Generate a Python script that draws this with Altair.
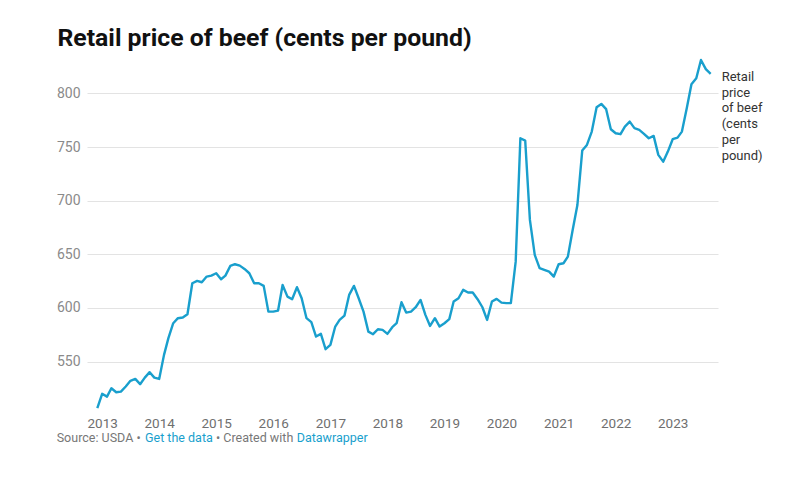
import altair as alt
import pandas as pd

# Monthly retail price of beef (cents per pound), Dec 2012 - Sep 2023
values = [
    506.6, 520.0, 517.4, 525.2, 521.5, 522.1, 526.8, 532.1, 533.9, 529.0, 535.1, 540.2, 535.1,
    533.9, 556.3, 571.9, 585.8, 590.5, 591.1, 594.2, 623.1, 625.3, 624.0, 629.3, 630.2, 632.4,
    626.8, 630.2, 639.2, 640.8, 639.5, 636.4, 632.4,
    623.1, 623.1, 620.6, 596.6, 596.6, 597.6, 621.5, 610.6, 608.2, 619.4, 609.1, 590.5, 586.8,
    573.4, 575.9, 561.6, 565.6, 582.7, 588.9, 592.9, 612.2, 620.6, 609.1, 596.6, 578.0, 575.6,
    580.2, 579.6, 575.9, 582.1, 585.8, 605.4, 595.7, 596.6,
    600.7, 607.5, 593.6, 583.3, 590.5, 582.7, 585.8, 589.6, 606.0, 609.1, 616.9, 614.4, 614.4,
    608.2, 600.7, 588.9, 606.0, 608.5, 605.0, 604.5, 604.5, 643.2, 758.2, 756.0, 682.1, 649.5,
    637.1, 635.5, 633.9, 629.3, 640.8, 641.7, 647.9,
    673.0, 696.0, 746.7, 752.0, 764.4, 787.1, 790.2, 785.3, 766.6, 762.9, 762.0, 769.1, 773.7,
    767.6, 766.0, 762.3, 758.2, 760.4, 742.7, 736.4, 745.8, 757.3, 758.8, 764.4, 786.2, 808.6,
    814.1, 831.2, 822.6, 818.2,
]
start_year, start_month = 2012, 12
months = []
for i in range(len(values)):
    m = start_month - 1 + i
    months.append(f"{start_year + m // 12:04d}-{m % 12 + 1:02d}-01T00:00:00")

year_ticks = list(range(2013, 2024))
y_ticks = [550, 600, 650, 700, 750, 800]
series_label = "Retail\nprice\nof beef\n(cents\nper\npound)"
title_text = "Retail price of beef (cents per pound)"

df = pd.DataFrame({"date": months, "price": values})
last = pd.DataFrame({"date": [months[-1]], "price": [values[-1]], "label": [series_label]})

BLUE = "#199fcd"
GRAY = "#777777"
FONT = "Roboto"

x_enc = alt.X(
    "date:T",
    title=None,
    scale=alt.Scale(domain=[alt.DateTime(year=2012, month=9, date=26),
                            alt.DateTime(year=2023, month=10, date=18)]),
    axis=alt.Axis(
        values=[alt.DateTime(year=y, month=1, date=1) for y in year_ticks],
        format="%Y", grid=False, domain=False, ticks=False,
        labelFont=FONT, labelFontSize=13.5, labelColor="#6f6f6f", labelPadding=5,
        labelAlign="center",
    ),
)
y_enc = alt.Y(
    "price:Q",
    title=None,
    scale=alt.Scale(domain=[504, 835.8], nice=False, zero=False),
    axis=alt.Axis(
        values=y_ticks, grid=True, gridColor="#e3e3e3", gridWidth=1,
        domain=False, ticks=False, labelFont=FONT, labelFontSize=14,
        labelColor="#8a8a8a", labelPadding=7,
    ),
)

line = alt.Chart(df).mark_line(color=BLUE, strokeWidth=2.4, strokeJoin="round").encode(
    x=x_enc, y=y_enc
)

label = alt.Chart(last).mark_text(
    align="left", baseline="alphabetic", dx=11, dy=7, lineBreak="\n",
    lineHeight=15.8, font=FONT, fontSize=13, color="#333333",
).encode(x="date:T", y="price:Q", text="label:N")

footer_parts = [
    ("Source: USDA \u2022", -30.3, GRAY),
    ("Get the data", 58.0, BLUE),
    ("\u2022 Created with", 129.0, GRAY),
    ("Datawrapper", 209.7, BLUE),
]
footer_layers = []
for txt, xpos, col in footer_parts:
    footer_layers.append(
        alt.Chart(pd.DataFrame({"t": [txt]})).mark_text(
            align="left", baseline="alphabetic", font=FONT, fontSize=12.5, color=col,
        ).encode(x=alt.value(xpos), y=alt.value(387.4), text="t:N")
    )

chart = alt.layer(line, label, *footer_layers).properties(
    width=631,
    height=356,
    padding={"left": 79, "top": 47, "right": 70, "bottom": 45},
    autosize=alt.AutoSizeParams(type="none"),
    title=alt.TitleParams(
        title_text, anchor="start", font=FONT, fontSize=24.8, fontWeight="bold",
        color="#111111", dx=1, dy=23, offset=7, baseline="alphabetic",
    ),
).configure_view(stroke=None)

chart.save("out.html", embed_options={"renderer": "svg", "actions": False})
